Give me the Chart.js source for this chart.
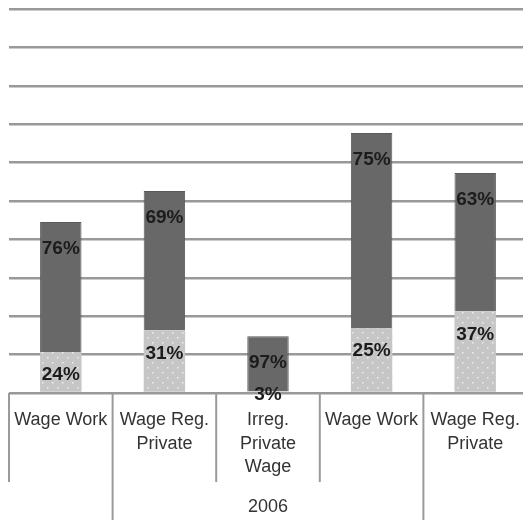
<!DOCTYPE html>
<html lang="en">
<head>
  <meta charset="UTF-8">
  <title>Wage work shares</title>
  <script src="https://cdn.jsdelivr.net/npm/chart.js"></script>
  <style>
    body {
      margin: 0;
      background: #fff;
      overflow: hidden;
    }
    canvas {
      display: block;
    }
  </style>
</head>
<body>
  <canvas id="wageChart" width="527" height="526"></canvas>

  <script>
    // categories and values (bar heights in grid units)
    const categories = [
      'Wage Work',
      ['Wage Reg.', 'Private'],
      ['Irreg.', 'Private', 'Wage'],
      'Wage Work',
      ['Wage Reg.', 'Private']
    ];
    const lowerValues = [1.07, 1.63, 0.04, 1.69, 2.12];
    const upperValues = [3.38, 3.63, 1.44, 5.08, 3.61];
    const lowerPct = ['24%', '31%', '3%', '25%', '37%'];
    const upperPct = ['76%', '69%', '97%', '75%', '63%'];
    const groupLabel = '2006';
    const groupFrom = 1, groupTo = 3; // categories under the 2006 bracket

    // dotted light-grey fill
    function dotPattern() {
      const c = document.createElement('canvas');
      c.width = 10; c.height = 10;
      const g = c.getContext('2d');
      g.fillStyle = '#c6c6c6';
      g.fillRect(0, 0, 10, 10);
      g.fillStyle = '#eeeeee';
      g.fillRect(2, 2, 1.5, 1.5);
      g.fillRect(7, 7, 1.5, 1.5);
      return g.createPattern(c, 'repeat');
    }

    const FONT = "'Liberation Sans', Arial, sans-serif";

    // percentage labels inside the bars
    const barLabels = {
      id: 'barLabels',
      afterDatasetsDraw(chart) {
        const ctx = chart.ctx;
        ctx.save();
        ctx.font = 'bold 19px ' + FONT;
        ctx.fillStyle = '#1c1c1c';
        ctx.textAlign = 'center';
        ctx.textBaseline = 'middle';
        chart.data.datasets.forEach((ds, di) => {
          const meta = chart.getDatasetMeta(di);
          const off = di === 0 ? 23 : 27;
          meta.data.forEach((bar, i) => {
            const top = Math.min(bar.y, bar.base);
            const bot = Math.max(bar.y, bar.base);
            const y = Math.min(top + off, (top + bot) / 2 + 3);
            ctx.fillText(ds.pctLabels[i], bar.x, y);
          });
        });
        ctx.restore();
      }
    };

    // category separators and the 2006 group label
    const axisBrackets = {
      id: 'axisBrackets',
      afterDraw(chart) {
        const ctx = chart.ctx;
        const x = chart.scales.x;
        const half = (x.getPixelForValue(1) - x.getPixelForValue(0)) / 2;
        const top = chart.chartArea.bottom;
        ctx.save();
        ctx.strokeStyle = '#9a9a9a';
        ctx.lineWidth = 2;
        for (let i = 0; i <= categories.length; i++) {
          const px = x.getPixelForValue(0) - half + i * half * 2;
          const long = (i === groupFrom || i === groupTo + 1);
          ctx.beginPath();
          ctx.moveTo(px, top);
          ctx.lineTo(px, long ? 520 : 482);
          ctx.stroke();
        }
        const gx = (x.getPixelForValue(groupFrom) + x.getPixelForValue(groupTo)) / 2;
        ctx.font = '18px ' + FONT;
        ctx.fillStyle = '#333';
        ctx.textAlign = 'center';
        ctx.textBaseline = 'middle';
        ctx.fillText(groupLabel, gx, 507);
        ctx.restore();
      }
    };

    new Chart(document.getElementById('wageChart'), {
      type: 'bar',
      data: {
        labels: categories,
        datasets: [{
          data: lowerValues,
          pctLabels: lowerPct,
          backgroundColor: dotPattern(),
          barPercentage: 0.4,
          categoryPercentage: 1
        }, {
          data: upperValues,
          pctLabels: upperPct,
          backgroundColor: '#686868',
          borderColor: '#5a5a5a',
          borderWidth: 1,
          barPercentage: 0.4,
          categoryPercentage: 1
        }]
      },
      options: {
        responsive: false,
        animation: false,
        devicePixelRatio: 1,
        layout: { padding: { top: 9, left: 9, right: 0, bottom: 0 } },
        plugins: {
          legend: { display: false },
          tooltip: { enabled: false }
        },
        scales: {
          x: {
            stacked: true,
            grid: { display: false, drawTicks: false },
            border: { display: false },
            ticks: {
              padding: 16,
              color: '#333',
              font: { family: FONT, size: 18, lineHeight: 1.28 },
              maxRotation: 0,
              autoSkip: false
            },
            afterFit(scale) {
              scale.height = 133;
              scale.paddingLeft = 0;
              scale.paddingRight = 0;
            }
          },
          y: {
            stacked: true,
            min: 0,
            max: 10,
            ticks: { display: false, stepSize: 1 },
            grid: { color: '#999', lineWidth: 2.5, drawTicks: false },
            border: { display: false },
            afterFit(scale) { scale.width = 0; }
          }
        }
      },
      plugins: [barLabels, axisBrackets]
    });
  </script>
</body>
</html>
